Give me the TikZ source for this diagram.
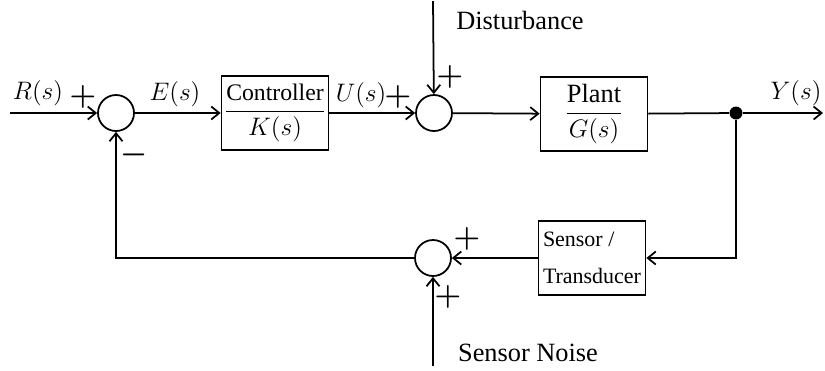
\documentclass[tikz,border=0pt]{standalone}
\usepackage{amsmath}
\usepackage{fontspec}
\setmainfont{Liberation Serif}
\usetikzlibrary{arrows.meta,positioning}
\tikzset{
  sumc/.style={circle, draw, line width=1pt, minimum size=0.72cm, inner sep=0pt},
  blk/.style={draw, line width=1pt, minimum width=2.14cm, minimum height=1.48cm, inner sep=0pt},
  sig/.style={-{Straight Barb[length=1.6mm, width=2.6mm]}, line width=1pt},
  wire/.style={line width=1pt},
  lab/.style={font=\fontsize{15}{18}\selectfont, inner sep=0pt},
  sgn/.style={font=\fontsize{17}{18}\selectfont\boldmath, inner sep=0pt},
  jdot/.style={circle, fill, inner sep=0pt, minimum size=0.26cm},
}

\begin{document}
\begin{tikzpicture}[x=0.02cm, y=-0.02cm]
\useasboundingbox (0,0) rectangle (825,370);
%---- forward path
\coordinate (rin) at (10,113);
\node[sumc] (s1) at (116,113) {};
\node[blk, font=\fontsize{13.5}{16}\selectfont] (ctrl) at (275,113)
  {$\genfrac{}{}{0.8pt}{0}{\text{Controller}}{K(s)\rule[-3pt]{0pt}{3pt}}$};
\node[sumc] (s2) at (434,113) {};
\node[blk, font=\fontsize{15}{18}\selectfont] (plant) at (594,114)
  {$\genfrac{}{}{0.8pt}{0}{\text{Plant}}{G(s)\rule[-3pt]{0pt}{3pt}}$};
\node[jdot] (tap) at (736,113) {};
\coordinate (yout) at (823,113);
%---- feedback path
\node[blk, align=left, font=\fontsize{12.5}{21}\selectfont] (sens) at (592,258)
  {Sensor /\\Transducer};
\node[sumc] (s3) at (433,258) {};
\coordinate (dist) at (433,1);
\coordinate (noise) at (433,366);

\draw[sig] (rin) -- (s1);
\draw[sig] (s1) -- (ctrl);
\draw[sig] (ctrl) -- (s2);
\draw[sig] (s2) -- (plant);
\draw[wire] (plant) -- (tap);
\draw[sig] (tap) -- (yout);
\draw[sig] (tap) |- (sens);
\draw[sig] (sens) -- (s3);
\draw[sig] (s3) -| (s1);
\draw[sig] (dist) -- (s2);
\draw[sig] (noise) -- (s3);

%---- labels and signs
\node[lab] (lR) at (38,93) {$R(s)$};
\node[sgn] (p1) at (83,97) {$+$};
\node[lab] (lE) at (175,94) {$E(s)$};
\node[lab] (lU) at (361,95) {$U(s)$};
\node[sgn] (p2) at (398,97) {$+$};
\node[sgn] (p3) at (450,77) {$+$};
\node[lab] (ldist) at (520,20) {Disturbance};
\node[lab] (lY) at (796,93) {$Y(s)$};
\node[sgn] (m1) at (134,155) {$-$};
\node[sgn] (p4) at (467,239) {$+$};
\node[sgn] (p5) at (448,297) {$+$};
\node[lab] (lnoise) at (528,353) {Sensor Noise};
\end{tikzpicture}
\end{document}
